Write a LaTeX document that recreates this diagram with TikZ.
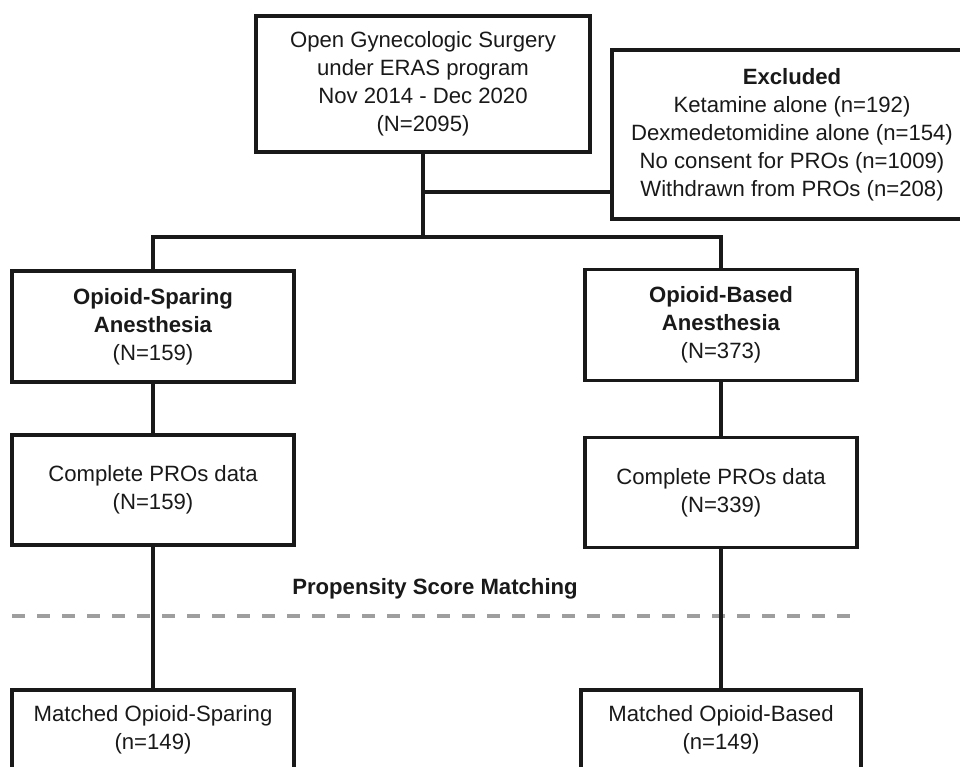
\documentclass[tikz,border=0pt]{standalone}
\usepackage{fontspec}
\setmainfont{Liberation Sans}
\usetikzlibrary{calc}

\begin{document}
\begin{tikzpicture}[
        box/.style={rectangle, draw=black!90, line width=2.1pt, align=center, minimum width=5.64cm, minimum height=2.2cm, inner sep=2pt, font=\fontsize{12.6}{15.9}\selectfont, text=black!90},
        link/.style={line width=1.9pt, draw=black!90},
        cut/.style={line width=2.2pt, draw=black!38, dash pattern=on 0.26cm off 0.24cm},
        title/.style={font=\fontsize{12.6}{15.9}\selectfont\bfseries, text=black!90}
    ]
        \useasboundingbox (0, 0) rectangle (19.2, -15.34);
        \clip (0, 0) rectangle (19.2, -15.34);
        \node[box, minimum width=6.68cm, minimum height=2.72cm] (start) at (8.46, -1.68) {Open Gynecologic Surgery\\under ERAS program\\Nov 2014 - Dec 2020\\(N=2095)};
        \node[box, minimum width=7.2cm, minimum height=3.38cm] (excl) at (15.84, -2.69) {\textbf{Excluded}\\Ketamine alone (n=192)\\Dexmedetomidine alone (n=154)\\No consent for PROs (n=1009)\\Withdrawn from PROs (n=208)};
        \node[box, minimum height=2.22cm] (osa) at (3.06, -6.53) {\textbf{Opioid-Sparing}\\\textbf{Anesthesia}\\(N=159)};
        \node[box, minimum width=5.44cm, minimum height=2.22cm] (oba) at (14.42, -6.5) {\textbf{Opioid-Based}\\\textbf{Anesthesia}\\(N=373)};
        \node[box] (cpl) at (3.06, -9.8) {Complete PROs data\\(N=159)};
        \node[box, minimum width=5.44cm] (cpr) at (14.42, -9.85) {Complete PROs data\\(N=339)};
        \node[title] (psm) at (8.7, -11.78) {Propensity Score Matching};
        \node[box, minimum height=1.6cm] (mtl) at (3.06, -14.6) {Matched Opioid-Sparing\\(n=149)};
        \node[box, minimum width=5.6cm, minimum height=1.6cm] (mtr) at (14.42, -14.6) {Matched Opioid-Based\\(n=149)};
        \coordinate (side) at (8.46, -3.84);
        \coordinate (fork) at (8.46, -4.74);
        \draw[cut] (0.24, -12.32) -- (17.16, -12.32);
        \draw[link] (start.south) -- (fork);
        \draw[link] (side) -- (side -| excl.west);
        \draw[link] (osa.north) |- (fork) -| (oba.north);
        \draw[link] (osa) -- (cpl);
        \draw[link] (cpl) -- (mtl);
        \draw[link] (oba) -- (cpr);
        \draw[link] (cpr) -- (mtr);
    \end{tikzpicture}
\end{document}
